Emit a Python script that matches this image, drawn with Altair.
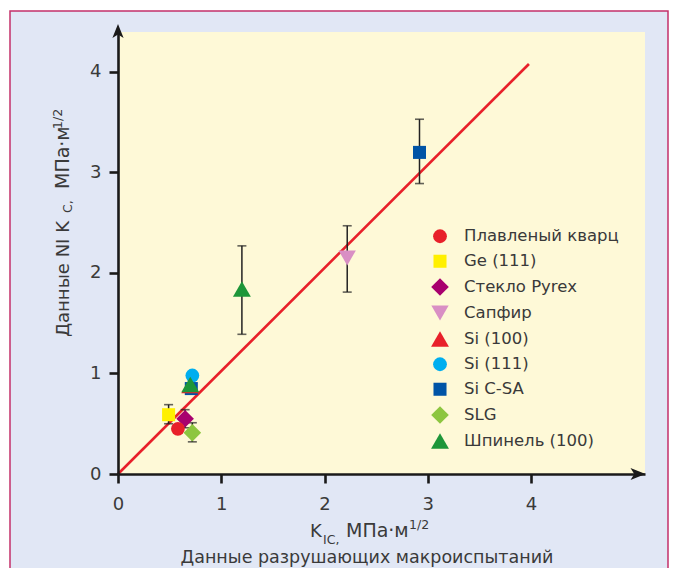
import altair as alt
import pandas as pd

FONT = "DejaVu Sans"
TC = "#3a3a3a"

# legend categories
names = ["Плавленый кварц", "Ge (111)", "Стекло Pyrex", "Сапфир", "Si (100)",
         "Si (111)", "Si C-SA", "SLG", "Шпинель (100)"]
colors = ["#e8202a", "#fff000", "#a8006e", "#d98fc4", "#e8202a",
          "#00aeef", "#0054a6", "#8dc63f", "#1e9639"]
shapes = ["circle", "square", "diamond", "triangle-down", "triangle-up",
          "circle", "square", "diamond", "triangle-up"]
sizes = [190, 170, 310, 300, 320, 190, 170, 310, 320]

# data points (in drawing order)
pt_name = ["Ge (111)", "Стекло Pyrex", "Плавленый кварц", "SLG", "Si (111)",
           "Si C-SA", "Si (100)", "Шпинель (100)", "Шпинель (100)", "Сапфир", "Si C-SA"]
pt_x = [0.49, 0.65, 0.58, 0.72, 0.72, 0.71, 0.70, 0.70, 1.20, 2.22, 2.92]
pt_y = [0.59, 0.55, 0.45, 0.41, 0.98, 0.85, 0.88, 0.89, 1.84, 2.15, 3.20]

# error bars
err_x = [0.49, 0.65, 0.72, 1.20, 2.22, 2.92]
err_lo = [0.50, 0.46, 0.32, 1.39, 1.81, 2.89]
err_hi = [0.69, 0.64, 0.51, 2.27, 2.47, 3.53]

# reference line
line_x = [0.0, 3.98]
line_y = [0.0, 4.08]

ticks = [0, 1, 2, 3, 4]

W, H = 527, 442
XD = [0, 5.104]
YD = [0, 4.398]

pts = pd.DataFrame({"name": pt_name, "x": pt_x, "y": pt_y})
errs = pd.DataFrame({"x": err_x, "lo": err_lo, "hi": err_hi})
ln = pd.DataFrame({"x": line_x, "y": line_y})
one = alt.Data(values=[{}])

xs = alt.Scale(domain=XD, nice=False, zero=False)
ys = alt.Scale(domain=YD, nice=False, zero=False)

axis_style = dict(
    title=None, format="d", grid=False, zindex=2, labelFlush=False,
    domainColor="#1a1a1a", domainWidth=2.6, tickColor="#1a1a1a", tickWidth=2.6,
    tickSize=9, labelFont=FONT, labelFontSize=18, labelColor=TC,
)
xax = alt.Axis(values=ticks, labelPadding=12, **axis_style)
yax = alt.Axis(values=ticks, labelPadding=8, **axis_style)

outer = alt.Chart(one).mark_rect(fill="#e1e7f5", stroke="#c4306a", strokeWidth=1.5).encode(
    x=alt.value(-108), x2=alt.value(550), y=alt.value(-21), y2=alt.value(600))
inner = alt.Chart(one).mark_rect(fill="#fef9d7").encode(
    x=alt.value(0), x2=alt.value(W), y=alt.value(0), y2=alt.value(H))

refline = alt.Chart(ln).mark_line(color="#e8202a", strokeWidth=2.6).encode(
    x=alt.X("x:Q", scale=xs, axis=xax),
    y=alt.Y("y:Q", scale=ys, axis=yax))

rules = alt.Chart(errs).mark_rule(color="#222222", strokeWidth=1.5).encode(
    x=alt.X("x:Q", scale=xs, axis=xax), y=alt.Y("lo:Q", scale=ys, axis=yax), y2="hi:Q")
cap_lo = alt.Chart(errs).mark_tick(color="#222222", thickness=1.6, size=9, orient="horizontal").encode(
    x=alt.X("x:Q", scale=xs, axis=xax), y=alt.Y("lo:Q", scale=ys, axis=yax))
cap_hi = alt.Chart(errs).mark_tick(color="#222222", thickness=1.6, size=9, orient="horizontal").encode(
    x=alt.X("x:Q", scale=xs, axis=xax), y=alt.Y("hi:Q", scale=ys, axis=yax))

legend = alt.Legend(title=None, orient="none", legendX=313, legendY=196, padding=0,
                    labelFont=FONT, labelFontSize=16.5, labelColor=TC, labelOffset=15,
                    rowPadding=8, symbolStrokeWidth=0, symbolOpacity=1, labelLimit=300)

points = alt.Chart(pts).mark_point(filled=True, opacity=1, strokeWidth=0).encode(
    x=alt.X("x:Q", scale=xs, axis=xax),
    y=alt.Y("y:Q", scale=ys, axis=yax),
    color=alt.Color("name:N", scale=alt.Scale(domain=names, range=colors), legend=legend),
    shape=alt.Shape("name:N", scale=alt.Scale(domain=names, range=shapes), legend=legend),
    size=alt.Size("name:N", scale=alt.Scale(type="ordinal", domain=names, range=sizes), legend=legend),
)

arrow_y = alt.Chart(one).mark_point(
    shape="M0,-1L0.8,1L0,0.5L-0.8,1Z", filled=True, color="#1a1a1a", opacity=1, size=196, strokeWidth=0
).encode(x=alt.value(0), y=alt.value(-1))
arrow_x = alt.Chart(one).mark_point(
    shape="M1,0L-1,-0.8L-0.5,0L-1,0.8Z", filled=True, color="#1a1a1a", opacity=1, size=225, strokeWidth=0
).encode(x=alt.value(W - 7), y=alt.value(H))


def txt(s, x, y, size, angle=0, align="left"):
    return alt.Chart(one).mark_text(
        text=s, fontSize=size, font=FONT, color=TC, align=align,
        baseline="alphabetic", angle=angle
    ).encode(x=alt.value(x), y=alt.value(y))


texts = [
    txt("K", 192, 505, 18),
    txt("IC,", 205, 512, 12.5),
    txt("МПа·м", 228, 505, 19),
    txt("1/2", 291, 497, 12.5),
    txt("Данные разрушающих макроиспытаний", 249, 531, 17.5, align="center"),
    txt("Данные NI K", -49, 305, 18, angle=270),
    txt("C,", -46, 181, 12.5, angle=270),
    txt("МПа·м", -49, 157, 19, angle=270),
    txt("1/2", -56, 97, 12.5, angle=270),
]

chart = alt.layer(outer, inner, refline, rules, cap_lo, cap_hi, points, arrow_y, arrow_x, *texts).properties(
    width=W, height=H,
    autosize=alt.AutoSizeParams(type="none"),
    padding={"left": 110, "top": 24, "right": 24, "bottom": 94},
    background="white",
).configure_view(stroke=None)

chart.save("out.html", embed_options={"renderer": "svg", "actions": False})
